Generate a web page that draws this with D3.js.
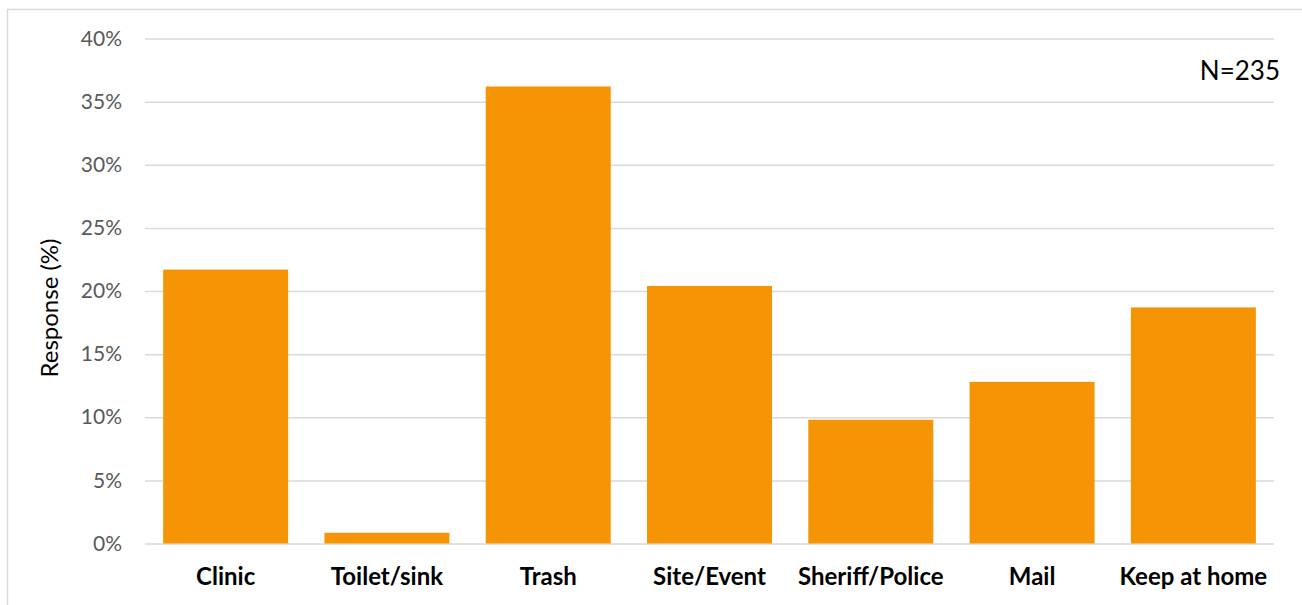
<!DOCTYPE html>
<html>
<head>
<meta charset="utf-8">
<script src="https://cdn.jsdelivr.net/npm/d3@7"></script>
<style>
  body { margin: 0; background: #fff; }
  svg { display: block; font-family: Lato, "Open Sans", sans-serif; }
</style>
</head>
<body>
<div id="chart"></div>
<script>
// chart data
const categories = ["Clinic", "Toilet/sink", "Trash", "Site/Event", "Sheriff/Police", "Mail", "Keep at home"];
const values = [21.7, 0.85, 36.2, 20.4, 9.8, 12.8, 18.7];
const yTicks = [0, 5, 10, 15, 20, 25, 30, 35, 40];
const note = "N=235";

const width = 1302;
const height = 605;
const marginTop = 38.5;
const marginRight = 28;
const marginBottom = 61.5;
const marginLeft = 145;

const svg = d3.select("#chart").append("svg")
    .attr("width", width)
    .attr("height", height);

// outer chart frame
svg.append("rect")
    .attr("x", 7.5)
    .attr("y", 9.5)
    .attr("width", width + 10)
    .attr("height", height + 10)
    .attr("fill", "none")
    .attr("stroke", "#d9d9d9")
    .attr("stroke-width", 1.5);

const x = d3.scaleBand(categories, [marginLeft, width - marginRight])
    .paddingInner(0.225)
    .paddingOuter(0.1125);

const y = d3.scaleLinear([0, 40], [height - marginBottom, marginTop]);

// gridlines + y tick labels
const yAxis = svg.append("g")
    .attr("transform", `translate(${marginLeft},0)`)
    .call(d3.axisLeft(y).tickValues(yTicks).tickFormat(d => d + "%")
        .tickSize(-(width - marginLeft - marginRight)).tickPadding(23));
yAxis.select(".domain").remove();
yAxis.selectAll(".tick line").attr("stroke", "#d9d9d9").attr("stroke-width", 1.5);
yAxis.selectAll(".tick text")
    .attr("fill", "#595959")
    .attr("font-size", 21)
    .attr("font-family", "Lato, sans-serif");

// bars
svg.append("g")
    .selectAll("rect")
    .data(values)
    .join("rect")
    .attr("x", (d, i) => x(categories[i]))
    .attr("y", d => y(d))
    .attr("width", x.bandwidth())
    .attr("height", d => y(0) - y(d))
    .attr("fill", "#f59505");

// x labels
const xAxis = svg.append("g")
    .attr("transform", `translate(0,${height - marginBottom})`)
    .call(d3.axisBottom(x).tickSize(0).tickPadding(24));
xAxis.select(".domain").remove();
xAxis.selectAll(".tick text")
    .attr("fill", "#000")
    .attr("font-size", 24)
    .attr("font-weight", "bold")
    .attr("font-family", "Lato, sans-serif");

// y axis title
svg.append("text")
    .attr("transform", `translate(58,${(marginTop + height - marginBottom) / 2 + 17}) rotate(-90)`)
    .attr("text-anchor", "middle")
    .attr("font-size", 24)
    .attr("fill", "#000")
    .text("Response (%)");

// sample size note
svg.append("text")
    .attr("x", 1280)
    .attr("y", 80)
    .attr("text-anchor", "end")
    .attr("font-size", 26)
    .attr("fill", "#000")
    .text(note);
</script>
</body>
</html>
